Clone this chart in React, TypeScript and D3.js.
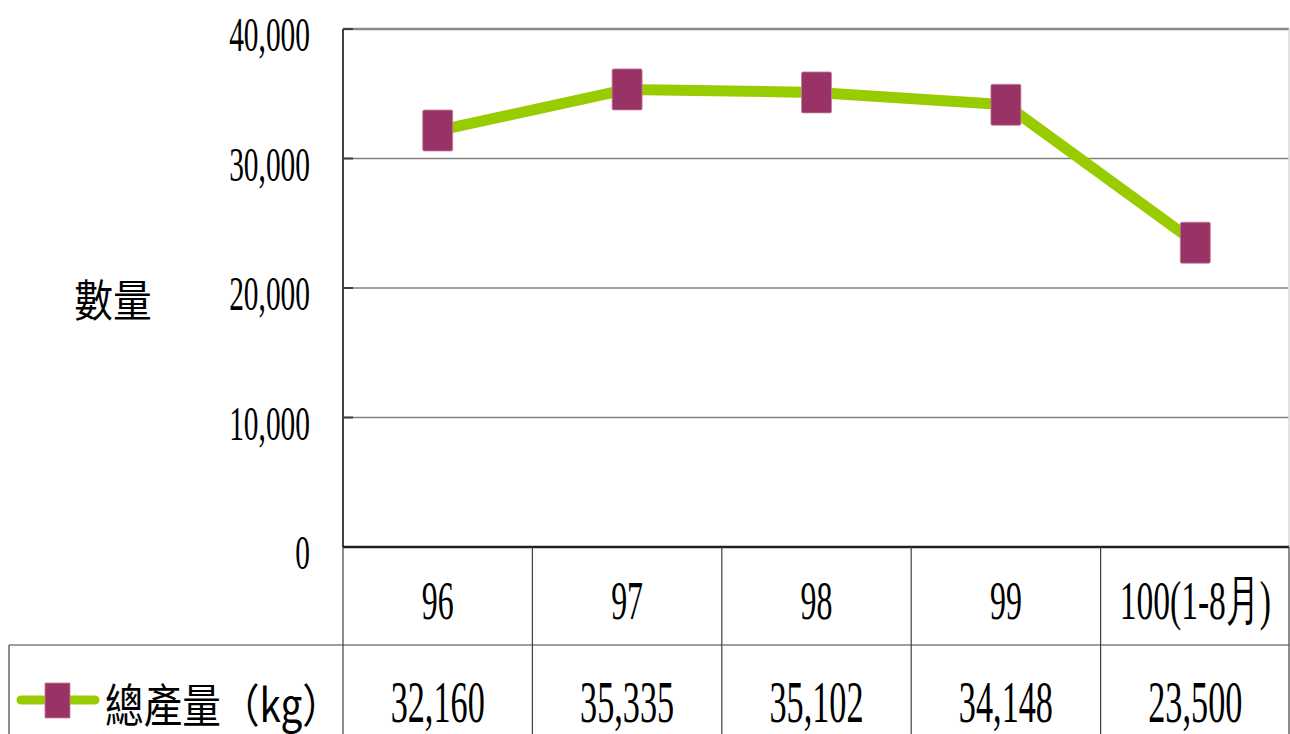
import React, { useEffect } from 'react';
import * as d3 from 'd3';

const categories = ['96', '97', '98', '99', '100(1-8月)'];
const totalOutput = [32160, 35335, 35102, 34148, 23500];
const yTicks = [0, 10000, 20000, 30000, 40000];
const seriesName = '總產量（kg）';
const yTitle = '數量';

const W = 1290;
const H = 734;
const plot = { left: 343, right: 1289, top: 29, bottom: 547 };
const tableRow = 645;
const serif = '"Liberation Serif", "Times New Roman", serif';
const cjk = '"Noto Sans CJK TC", "Noto Sans CJK SC", sans-serif';

// condensed text, like the narrow serif in the original
const Narrow: React.FC<{ x: number; y: number; size: number; sx: number; anchor?: string; family?: string; children: React.ReactNode }> =
    ({ x, y, size, sx, anchor = 'middle', family = serif, children }) => (
        <text transform={`translate(${x},${y}) scale(${sx},1)`} textAnchor={anchor}
            fontFamily={family} fontSize={size} fill="#000">{children}</text>
    );

const App: React.FC = () => {
    useEffect(() => {
        document.body.style.margin = '0';
    }, []);

    const x = d3.scaleBand<string>().domain(categories).range([plot.left, plot.right + 1]);
    const y = d3.scaleLinear().domain([0, 40000]).range([plot.bottom, plot.top]);
    const cx = (c: string) => x(c)! + x.bandwidth() / 2;
    const fmt = d3.format(',');

    const pts = categories.map((c, i) => [cx(c), y(totalOutput[i])] as [number, number]);
    const path = d3.line()(pts) || '';

    return (
        <svg width={W} height={H} style={{ display: 'block', background: '#fff' }}>
            {/* gridlines */}
            {yTicks.filter(t => t > 0).map(t => (
                <line key={t} x1={plot.left} x2={plot.right} y1={y(t)} y2={y(t)}
                    stroke={t === 40000 ? '#8a8a8a' : '#7f7f7f'} strokeWidth={t === 40000 ? 2.5 : 1.5} />
            ))}
            <line x1={plot.right} x2={plot.right} y1={plot.top} y2={plot.bottom} stroke="#d9d9d9" strokeWidth={1.5} />
            {/* y axis */}
            <line x1={plot.left} x2={plot.left} y1={plot.top} y2={plot.bottom} stroke="#404040" strokeWidth={2} />
            {yTicks.map(t => (
                <line key={'tk' + t} x1={plot.left} x2={plot.left + 10} y1={y(t)} y2={y(t)} stroke="#404040" strokeWidth={2} />
            ))}
            {yTicks.map(t => (
                <Narrow key={'yl' + t} x={310} y={y(t) + 22} size={49} sx={0.6} anchor="end">{fmt(t)}</Narrow>
            ))}
            <Narrow x={113} y={317} size={44} sx={0.88} family={cjk}>{yTitle}</Narrow>

            {/* data table */}
            <line x1={plot.left} x2={plot.right} y1={plot.bottom} y2={plot.bottom} stroke="#202020" strokeWidth={2.5} />
            <line x1={9} x2={plot.right} y1={tableRow} y2={tableRow} stroke="#404040" strokeWidth={1.2} />
            <line x1={9} x2={9} y1={tableRow} y2={H} stroke="#404040" strokeWidth={1.2} />
            {categories.map(c => (
                <line key={'v' + c} x1={x(c)!} x2={x(c)!} y1={plot.bottom} y2={H} stroke="#404040" strokeWidth={1.2} />
            ))}
            <line x1={plot.right} x2={plot.right} y1={plot.bottom} y2={H} stroke="#404040" strokeWidth={1.2} />
            {categories.map(c => (
                <Narrow key={'c' + c} x={cx(c)} y={619} size={55} sx={c.length > 3 ? 0.61 : 0.58}>{c}</Narrow>
            ))}
            {categories.map((c, i) => (
                <Narrow key={'d' + c} x={cx(c)} y={722} size={59} sx={0.58}>{fmt(totalOutput[i])}</Narrow>
            ))}

            {/* legend key */}
            <line x1={21} x2={95} y1={700} y2={700} stroke="#99cc00" strokeWidth={9} strokeLinecap="round" />
            <rect x={45} y={683} width={25} height={35} fill="#993366" stroke="#c77fa0" strokeWidth={0.8} />
            <Narrow x={105} y={722} size={46} sx={0.84} anchor="start" family={cjk}>{seriesName}</Narrow>

            {/* series */}
            <path d={path} fill="none" stroke="#99cc00" strokeWidth={11} strokeLinejoin="round" />
            {pts.map(([px, py], i) => (
                <rect key={'m' + i} x={px - 15} y={py - 20.5} width={30} height={41} rx={1.5}
                    fill="#993366" stroke="#c77fa0" strokeWidth={0.8} />
            ))}
        </svg>
    );
};

export default App;
